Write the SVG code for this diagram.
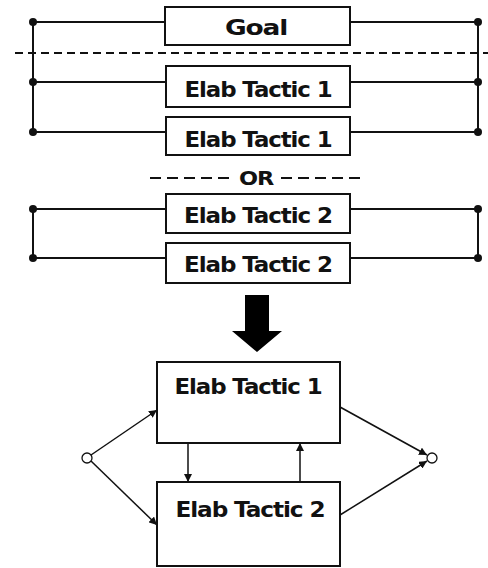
<svg xmlns="http://www.w3.org/2000/svg" width="488" height="568" viewBox="0 0 488 568">
<style>
.box{fill:#fff;stroke:#111;stroke-width:2}
.ln{stroke:#111;stroke-width:2;fill:none}
.dot{fill:#111}
.t{font-family:"DejaVu Sans",Verdana,sans-serif;font-weight:bold;fill:#111;text-anchor:middle;letter-spacing:-1px}
.arr{stroke:#111;stroke-width:1.5;fill:none;marker-end:url(#ah)}
</style>
<defs>
<marker id="ah" viewBox="0 0 10 10" refX="10" refY="5" markerWidth="8" markerHeight="8" markerUnits="userSpaceOnUse" orient="auto">
<path d="M0,0 L10,5 L0,10 z" fill="#111"/>
</marker>
</defs>
<rect width="488" height="568" fill="#fff"/>
<g id="connectors">
<path class="ln" d="M33,22 H165 M350,22 H478 M33,82 H166 M350,82 H478 M33,132 H166 M350,132 H478 M33,22 V132 M478,22 V132"/>
<path class="ln" d="M15,53 H488" stroke-dasharray="8,5"/>
<path class="ln" d="M150,178 H231 M281,178 H366" stroke-dasharray="11,6" stroke-width="1.6"/>
<path class="ln" d="M33,209 H166 M350,209 H478 M33,258 H166 M350,258 H478 M33,209 V258 M478,209 V258"/>
<circle class="dot" cx="33" cy="22" r="4"/><circle class="dot" cx="478" cy="22" r="4"/>
<circle class="dot" cx="33" cy="82" r="4"/><circle class="dot" cx="478" cy="82" r="4"/>
<circle class="dot" cx="33" cy="132" r="4"/><circle class="dot" cx="478" cy="132" r="4"/>
<circle class="dot" cx="33" cy="209" r="4"/><circle class="dot" cx="478" cy="209" r="4"/>
<circle class="dot" cx="33" cy="258" r="4"/><circle class="dot" cx="478" cy="258" r="4"/>
<path d="M245,295 H269 V331 H282 L257,352 L232,331 H245 Z" fill="#000"/>
<line class="arr" x1="91" y1="455" x2="157" y2="410"/>
<line class="arr" x1="91" y1="461" x2="157" y2="525"/>
<line class="arr" x1="340" y1="407" x2="427" y2="455"/>
<line class="arr" x1="340" y1="515" x2="427" y2="461"/>
<line class="arr" x1="188" y1="443" x2="188" y2="482"/>
<line class="arr" x1="300" y1="482" x2="300" y2="443"/>
<circle cx="87" cy="458" r="5" fill="#fff" stroke="#111" stroke-width="1.3"/>
<circle cx="432" cy="458" r="5" fill="#fff" stroke="#111" stroke-width="1.3"/>
</g>
<g id="goal"><rect class="box" x="165" y="7" width="185" height="38"/><text class="t" x="256" y="35" font-size="22" textLength="62" lengthAdjust="spacingAndGlyphs">Goal</text></g>
<g id="t1a"><rect class="box" x="166" y="66" width="184" height="41"/><text class="t" x="258" y="97" font-size="21" textLength="147" lengthAdjust="spacingAndGlyphs">Elab Tactic 1</text></g>
<g id="t1b"><rect class="box" x="166" y="117" width="184" height="38"/><text class="t" x="258" y="147" font-size="21" textLength="147" lengthAdjust="spacingAndGlyphs">Elab Tactic 1</text></g>
<g id="or"><text class="t" x="256" y="185" font-size="19" textLength="34" lengthAdjust="spacingAndGlyphs">OR</text></g>
<g id="t2a"><rect class="box" x="166" y="194" width="184" height="39"/><text class="t" x="258" y="223" font-size="21" textLength="148" lengthAdjust="spacingAndGlyphs">Elab Tactic 2</text></g>
<g id="t2b"><rect class="box" x="166" y="243" width="184" height="40"/><text class="t" x="258" y="272" font-size="21" textLength="148" lengthAdjust="spacingAndGlyphs">Elab Tactic 2</text></g>
<g id="b1"><rect class="box" x="157" y="362" width="183" height="81"/><text class="t" x="248" y="394" font-size="21" textLength="147" lengthAdjust="spacingAndGlyphs">Elab Tactic 1</text></g>
<g id="b2"><rect class="box" x="157" y="482" width="183" height="84"/><text class="t" x="250" y="517" font-size="21" textLength="149" lengthAdjust="spacingAndGlyphs">Elab Tactic 2</text></g>
</svg>
